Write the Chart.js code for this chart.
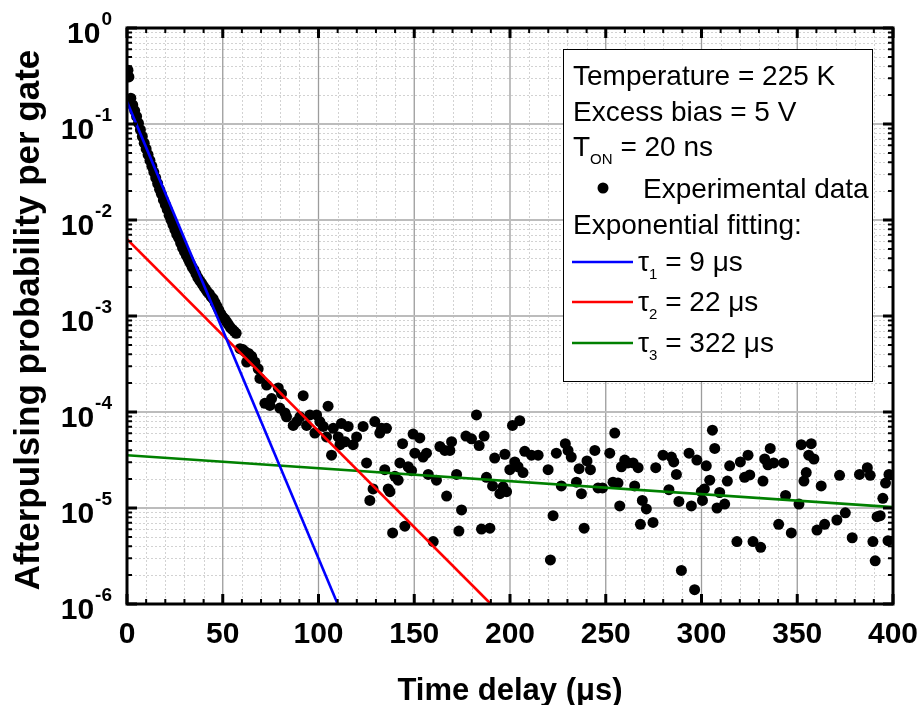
<!DOCTYPE html>
<html><head><meta charset="utf-8">
<script src="https://cdn.jsdelivr.net/npm/chart.js@4.4.0/dist/chart.umd.min.js"></script>
<style>html,body{margin:0;padding:0;background:#fff;}canvas{display:block;}</style>
</head><body>
<canvas id="c" width="922" height="705"></canvas>
<script>
// ---------- data ----------
const delayUs = [
 0.5,1,2,3,4,5,6,7,8,9,10,11,12,13,14,15,16,17,18,19,20,21,22,23,24,25,26,27,28,29,30,
 31,32,33,34,35,36,37,38,39,40,41,42,43,44,45,46,47,48,49,50,51,52,53,54,55,56,57,
 59,60.5,61.5,62.5,63.5,65.1,66.8,68.5,69.4,72.9,72,74.6,75.5,79,79.8,80.7,82.5,83.3,86.8,88.6,
 90.3,92,93.8,95.5,98.1,99,100.7,102.5,104.2,105,106.8,107.7,110.3,111.2,112,113.8,115.5,118.1,119.9,
 123.3,125.1,126.8,128.5,129.4,132,132.9,134.6,135.5,136.4,137.3,138.7,139.9,141.6,142.5,143.9,145.1,
 146.8,148.6,149.4,150.3,152.9,154.6,156.4,157.3,159.9,161.6,163.4,166,166.9,168.6,169.5,172.1,173.3,
 174.7,177,179.9,182.5,183.9,185.1,186.5,187.7,189.5,190.9,192,194.7,196.4,197.3,198.2,199.9,201.3,
 202.5,204.2,205.1,206.8,207.7,211.2,214.7,219.9,221.1,222.5,224.2,226.8,228.9,230.3,232,234.7,236.1,
 237.3,238.7,240.2,242,244.3,246,248.3,252.1,253.8,254.7,256.4,257.3,258.2,259.9,261.6,264.3,265.1,
 266.9,268.1,269.1,271.2,274.7,276.1,279.9,283,284.3,285.5,286.9,288.2,289.5,293.5,294.7,296.4,297.6,
 299.9,300.5,301.5,302.5,304.3,305.7,306.9,308.1,309.5,312.1,313.5,314.7,318.5,320.3,322.5,324.3,325.2,
 326.9,330.9,332.1,333,334.7,335.9,337.7,340.3,342.9,343.9,346.9,350.9,352.1,353.5,354.7,356,357.3,
 358.7,360.3,362.5,364.3,370.7,372.1,375.1,378.7,382.5,386.6,388.1,389.5,390.7,391.7,393.3,394.7,
 396.1,397.4,397.9
];
const afterpulseProb = [
 0.363,0.309,0.186,0.158,0.138,0.120,0.102,0.0871,0.0741,0.0631,0.0550,0.0479,0.0417,0.0363,0.0316,0.0275,
 0.0240,0.0209,0.0186,0.0162,0.0145,0.0129,0.0112,0.0100,0.00891,0.00794,0.00708,0.00646,0.00575,0.00513,0.00468,
 0.00427,0.00389,0.00355,0.00324,0.00302,0.00275,0.00251,0.00234,0.00219,0.00204,0.00191,0.00178,0.00170,0.00158,
 0.00151,0.00138,0.00126,0.00115,0.00105,0.000977,0.000933,0.000871,0.000813,0.000759,0.000724,0.000692,0.000661,
 4.57e-4,4.47e-4,4.27e-4,3.31e-4,4.07e-4,3.80e-4,3.31e-4,2.82e-4,2.24e-4,1.91e-4,1.23e-4,1.17e-4,1.38e-4,1.78e-4,
 1.10e-4,1.55e-4,9.77e-5,8.91e-5,7.24e-5,7.94e-5,
 8.91e-5,1.48e-4,7.24e-5,9.33e-5,6.03e-5,9.33e-5,7.94e-5,7.08e-5,5.50e-5,1.15e-4,3.55e-5,6.76e-5,5.50e-5,4.57e-5,
 7.59e-5,4.90e-5,7.08e-5,4.57e-5,5.50e-5,
 7.08e-5,2.95e-5,1.20e-5,1.58e-5,7.94e-5,6.03e-5,6.76e-5,2.51e-5,6.76e-5,1.58e-5,1.48e-5,5.50e-6,2.14e-5,1.95e-5,
 2.95e-5,4.68e-5,6.46e-6,
 2.69e-5,2.45e-5,5.89e-5,3.72e-5,5.37e-5,3.39e-5,3.72e-5,2.24e-5,4.47e-6,1.95e-5,4.37e-5,3.98e-5,1.33e-5,3.98e-5,
 4.90e-5,2.24e-5,5.75e-6,
 9.55e-6,5.62e-5,5.25e-5,9.33e-5,4.47e-5,6.03e-6,5.62e-5,2.09e-5,6.17e-6,1.70e-5,3.31e-5,1.41e-5,1.66e-5,3.63e-5,
 1.48e-5,2.51e-5,7.24e-5,
 3.02e-5,2.69e-5,8.13e-5,2.34e-5,3.89e-5,3.55e-5,3.55e-5,2.51e-5,2.88e-6,8.32e-6,3.72e-5,1.70e-5,4.68e-5,3.98e-5,
 3.39e-5,1.86e-5,2.57e-5,
 1.41e-5,6.17e-6,3.09e-5,2.51e-5,3.98e-5,1.62e-5,1.62e-5,3.72e-5,1.86e-5,6.03e-5,1.82e-5,1.05e-5,2.69e-5,3.16e-5,
 2.95e-5,2.95e-5,1.70e-5,
 2.63e-5,6.76e-6,1.20e-5,9.77e-6,7.08e-6,2.63e-5,3.55e-5,1.55e-5,3.39e-5,3.02e-5,2.24e-5,1.17e-5,2.24e-6,3.72e-5,
 1.05e-5,1.41e-6,3.16e-5,
 1.48e-5,1.20e-5,1.58e-5,2.75e-5,1.95e-5,6.46e-5,4.17e-5,1.00e-5,1.45e-5,1.10e-5,1.91e-5,2.75e-5,4.47e-6,3.02e-5,
 2.09e-5,3.55e-5,2.21e-5,
 4.47e-6,3.89e-6,1.91e-5,3.24e-5,2.82e-5,4.17e-5,2.95e-5,6.76e-6,2.95e-5,1.35e-5,5.50e-6,1.10e-5,4.57e-5,1.91e-5,
 2.34e-5,3.55e-5,4.68e-5,
 3.24e-5,5.89e-6,1.70e-5,6.76e-6,7.50e-6,2.19e-5,8.91e-6,4.90e-6,2.24e-5,2.63e-5,2.19e-5,4.47e-6,2.82e-6,8.13e-6,
 8.32e-6,1.26e-5,
 1.82e-5,4.57e-6,2.24e-5
];
// exponential fits: end points (straight lines on the log axis)
const fit1X = [0, 110];  const fit1Y = [0.17, 1.0e-6];     // tau1 = 9 us
const fit2X = [0, 190];  const fit2Y = [6.3e-3, 1.0e-6];   // tau2 = 22 us
const fit3X = [0, 400];  const fit3Y = [3.55e-5, 1.02e-5]; // tau3 = 322 us

const xTickValues = [0, 50, 100, 150, 200, 250, 300, 350, 400];
const xTickLabels = ['0', '50', '100', '150', '200', '250', '300', '350', '400'];
const yTickValues = [1, 1e-1, 1e-2, 1e-3, 1e-4, 1e-5, 1e-6];
const yTickExponents = ['0', '-1', '-2', '-3', '-4', '-5', '-6'];

const xTitle = 'Time delay (\u03bcs)';
const yTitle = 'Afterpulsing probability per gate';
const infoLines = ['Temperature = 225 K', 'Excess bias = 5 V'];
const seriesNames = ['Experimental data', 'Exponential fitting:'];
const fitNames = [['1', ' = 9 \u03bcs'], ['2', ' = 22 \u03bcs'], ['3', ' = 322 \u03bcs']];
const fitColors = ['#0000ff', '#ff0000', '#008000'];

// ---------- build ----------
const pts = delayUs.map((x, i) => ({x: x, y: afterpulseProb[i]}));
const line = (xs, ys) => xs.map((x, i) => ({x: x, y: ys[i]}));

const FONT = '"Liberation Sans", Arial, Helvetica, sans-serif';

const decor = {
  id: 'decor',
  beforeDatasetsDraw(chart) {
    const {ctx, chartArea: a, scales: {x, y}} = chart;
    ctx.save();
    // minor grid
    ctx.strokeStyle = '#d2d2d2'; ctx.lineWidth = 1; ctx.setLineDash([2, 2]);
    ctx.beginPath();
    for (let v = 10; v < 400; v += 10) {
      if (v % 50 === 0) continue;
      const px = Math.round(x.getPixelForValue(v)) + 0.5;
      ctx.moveTo(px, a.top); ctx.lineTo(px, a.bottom);
    }
    for (let e = -6; e < 0; e++) for (let m = 2; m <= 9; m++) {
      const py = Math.round(y.getPixelForValue(m * Math.pow(10, e))) + 0.5;
      ctx.moveTo(a.left, py); ctx.lineTo(a.right, py);
    }
    ctx.stroke();
    ctx.setLineDash([]);
    // major grid
    ctx.strokeStyle = '#9c9c9c'; ctx.lineWidth = 1.3;
    ctx.beginPath();
    xTickValues.slice(1, -1).forEach(v => {
      const px = x.getPixelForValue(v);
      ctx.moveTo(px, a.top); ctx.lineTo(px, a.bottom);
    });
    ctx.stroke();
    ctx.strokeStyle = '#bcbcbc'; ctx.lineWidth = 2;
    ctx.beginPath();
    yTickValues.slice(1, -1).forEach(v => {
      const py = y.getPixelForValue(v);
      ctx.moveTo(a.left, py); ctx.lineTo(a.right, py);
    });
    ctx.stroke();
    ctx.restore();
  },
  afterDatasetsDraw(chart) {
    const {ctx, chartArea: a, scales: {x, y}} = chart;
    ctx.save();
    ctx.strokeStyle = '#000'; ctx.fillStyle = '#000';
    // ticks
    ctx.lineWidth = 2;
    ctx.beginPath();
    for (let v = 0; v <= 400; v += 10) {
      if (v % 50 === 0) continue;
      const px = x.getPixelForValue(v);
      ctx.moveTo(px, a.bottom); ctx.lineTo(px, a.bottom - 5);
      ctx.moveTo(px, a.top); ctx.lineTo(px, a.top + 5);
    }
    for (let e = -6; e < 0; e++) for (let m = 2; m <= 9; m++) {
      const py = y.getPixelForValue(m * Math.pow(10, e));
      ctx.moveTo(a.left, py); ctx.lineTo(a.left + 5, py);
      ctx.moveTo(a.right, py); ctx.lineTo(a.right - 5, py);
    }
    ctx.stroke();
    ctx.lineWidth = 3;
    ctx.beginPath();
    xTickValues.forEach(v => {
      const px = x.getPixelForValue(v);
      ctx.moveTo(px, a.bottom); ctx.lineTo(px, a.bottom - 10);
      ctx.moveTo(px, a.top); ctx.lineTo(px, a.top + 10);
    });
    yTickValues.forEach(v => {
      const py = y.getPixelForValue(v);
      ctx.moveTo(a.left, py); ctx.lineTo(a.left + 10, py);
      ctx.moveTo(a.right, py); ctx.lineTo(a.right - 10, py);
    });
    ctx.stroke();
    // frame
    ctx.lineWidth = 3;
    ctx.strokeRect(a.left, a.top, a.right - a.left, a.bottom - a.top);

    // x tick labels
    ctx.font = 'bold 30px ' + FONT;
    ctx.textAlign = 'center'; ctx.textBaseline = 'alphabetic';
    xTickValues.forEach((v, i) => ctx.fillText(xTickLabels[i], x.getPixelForValue(v), 643));
    // y tick labels 10^n
    yTickValues.forEach((v, i) => {
      const py = y.getPixelForValue(v);
      ctx.font = 'bold 19px ' + FONT;
      const w2 = ctx.measureText(yTickExponents[i]).width;
      ctx.font = 'bold 30px ' + FONT;
      const w1 = ctx.measureText('10').width;
      const right = 112;
      ctx.textAlign = 'left';
      ctx.fillText('10', right - w2 - w1 - 1, py + 15);
      ctx.font = 'bold 19px ' + FONT;
      ctx.fillText(yTickExponents[i], right - w2, py - 3);
    });
    // axis titles
    ctx.font = 'bold 31px ' + FONT;
    ctx.textAlign = 'center';
    ctx.fillText(xTitle, (a.left + a.right) / 2, 700);
    ctx.save();
    ctx.translate(29, 320);
    ctx.rotate(-Math.PI / 2);
    ctx.font = 'bold 35px ' + FONT;
    ctx.textBaseline = 'middle';
    ctx.fillText(yTitle, 0, 0);
    ctx.restore();

    // legend box
    ctx.fillStyle = '#fff';
    ctx.fillRect(563, 49, 310, 333);
    ctx.strokeStyle = '#000'; ctx.lineWidth = 1;
    ctx.strokeRect(563.5, 49.5, 309, 332);
    ctx.fillStyle = '#000';
    ctx.textAlign = 'left'; ctx.textBaseline = 'alphabetic';
    const big = '28px ' + FONT, small = '15px ' + FONT;
    const tx = 573;
    ctx.font = big;
    ctx.fillText(infoLines[0], tx, 85);
    ctx.fillText(infoLines[1], tx, 121);
    // T_ON
    ctx.fillText('T', tx, 156);
    let w = ctx.measureText('T').width;
    ctx.font = small;
    ctx.fillText('ON', tx + w, 164);
    const wOn = ctx.measureText('ON').width;
    ctx.font = big;
    ctx.fillText(' = 20 ns', tx + w + wOn, 156);
    // data marker
    ctx.beginPath(); ctx.arc(603, 188, 5.5, 0, Math.PI * 2); ctx.fill();
    ctx.fillText(seriesNames[0], 643, 198);
    ctx.fillText(seriesNames[1], tx, 234);
    const fy = [262, 302, 343];
    fitNames.forEach((f, i) => {
      ctx.strokeStyle = fitColors[i]; ctx.lineWidth = 2.5;
      ctx.beginPath(); ctx.moveTo(572, fy[i]); ctx.lineTo(633, fy[i]); ctx.stroke();
      ctx.font = big;
      ctx.fillText('\u03c4', 638, fy[i] + 9);
      const wt = ctx.measureText('\u03c4').width;
      ctx.font = small;
      ctx.fillText(f[0], 638 + wt, fy[i] + 17);
      const ws = ctx.measureText(f[0]).width;
      ctx.font = big;
      ctx.fillText(f[1], 638 + wt + ws, fy[i] + 9);
    });
    ctx.restore();
  }
};

new Chart(document.getElementById('c'), {
  type: 'scatter',
  data: {
    datasets: [
      {label: 'tau1', data: line(fit1X, fit1Y), showLine: true, pointRadius: 0, borderColor: fitColors[0], borderWidth: 2.6, order: 1},
      {label: 'tau2', data: line(fit2X, fit2Y), showLine: true, pointRadius: 0, borderColor: fitColors[1], borderWidth: 2.6, order: 1},
      {label: 'tau3', data: line(fit3X, fit3Y), showLine: true, pointRadius: 0, borderColor: fitColors[2], borderWidth: 2.6, order: 1},
      {label: 'Experimental data', data: pts, pointRadius: 5.5, pointBackgroundColor: '#000', pointBorderWidth: 0, borderColor: '#000', order: 2}
    ]
  },
  options: {
    responsive: false, animation: false, devicePixelRatio: 1,
    layout: {padding: {left: 127, top: 28, right: 29, bottom: 101}},
    scales: {
      x: {type: 'linear', min: 0, max: 400, display: false},
      y: {type: 'logarithmic', min: 1e-6, max: 1, display: false}
    },
    plugins: {legend: {display: false}, tooltip: {enabled: false}}
  },
  plugins: [decor]
});
</script>
</body></html>
